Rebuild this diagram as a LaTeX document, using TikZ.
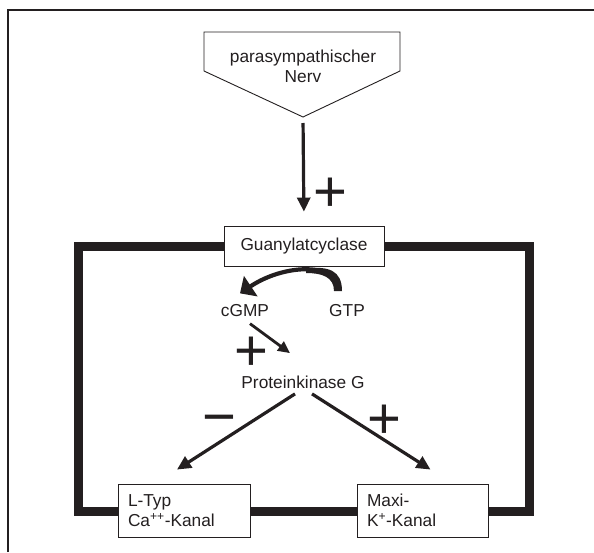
\documentclass[tikz,border=0pt]{standalone}
\usepackage{fontspec}
\setmainfont{Liberation Sans}
\usetikzlibrary{arrows.meta,calc}
\definecolor{ink}{RGB}{35,31,32}

\begin{document}
\begin{tikzpicture}[x=1pt,y=-1pt,
    font=\fontsize{17.3}{20}\selectfont, text=ink,
    box/.style={draw=ink,line width=0.9pt,fill=white},
    kanal/.style={box,minimum height=53pt,inner xsep=10pt,
      text width=112pt,align=left},
    arr/.style={draw=ink,line width=3.2pt,
      -{Triangle[length=14pt,width=13pt]}},
    sign/.style={anchor=base,inner sep=0pt,
      font=\fontsize{58}{58}\selectfont}]
  \useasboundingbox (0,0) rectangle (594,552);

  % page frame, only top and left
  \draw[ink,line width=1.3pt] (8,552) -- (8,10) -- (594,10);

  % thick loop through the boxes
  \draw[ink,line width=9pt,line join=miter] (78,246) rectangle (529,511);

  % nerve (pentagon)
  \draw[ink,line width=0.9pt,fill=white]
    (204,32) -- (400,32) -- (400,71) -- (303,117) -- (204,71) -- cycle;
  \coordinate (nervtip) at (303,117);
  \node[align=center] (nerv) at (303,66) {parasympathischer\\Nerv};

  \node[box,minimum width=160pt,minimum height=40pt] (guan) at (304,246)
    {Guanylatcyclase};
  \node (cgmp) at (245,311) {cGMP};
  \node (gtp) at (347,311) {GTP};
  \node (pkg) at (303,382) {Proteinkinase G};
  \node[kanal] (ltyp) at (184,510.5) {L-Typ\\Ca\textsuperscript{++}-Kanal};
  \node[kanal,text width=111pt] (maxi) at (422.5,510.5)
    {Maxi-\\K\textsuperscript{+}-Kanal};

  % connectors
  \draw[arr,shorten <=6pt,shorten >=14pt] (nervtip) -- (guan.north);
  \draw[arr,line width=4.2pt,-{Triangle[length=13pt,width=24pt]}]
    ([xshift=-9pt,yshift=11pt]gtp.north)
    .. controls +(0,-28) and +(45,-30) ..
    ([xshift=-5pt,yshift=8pt]cgmp.north);
  % thicker root of the curved arrow
  \fill[ink] (342,291) .. controls (342,270) and (328,266) .. (306,268.5)
    -- (306,273) .. controls (322,273) and (334,277) .. (334,291) -- cycle;
  \draw[arr,line width=2.8pt,-{Triangle[length=12pt,width=11pt]}]
    ($(cgmp.south)+(5,3)$) -- ($(pkg.north)+(-13,-19)$);
  \draw[arr] ($(pkg.south)+(-8,2)$) -- ($(ltyp.north)+(-7,-14)$);
  \draw[arr] ($(pkg.south)+(9,2)$) -- ($(maxi.north)+(8,-14)$);

  % signs
  \node[sign] (s1) at (330,211) {+};
  \node[sign] (s2) at (251,370) {+};
  \node[sign] (s3) at (219,436) {−};
  \node[sign] (s4) at (384,438) {+};
\end{tikzpicture}
\end{document}
